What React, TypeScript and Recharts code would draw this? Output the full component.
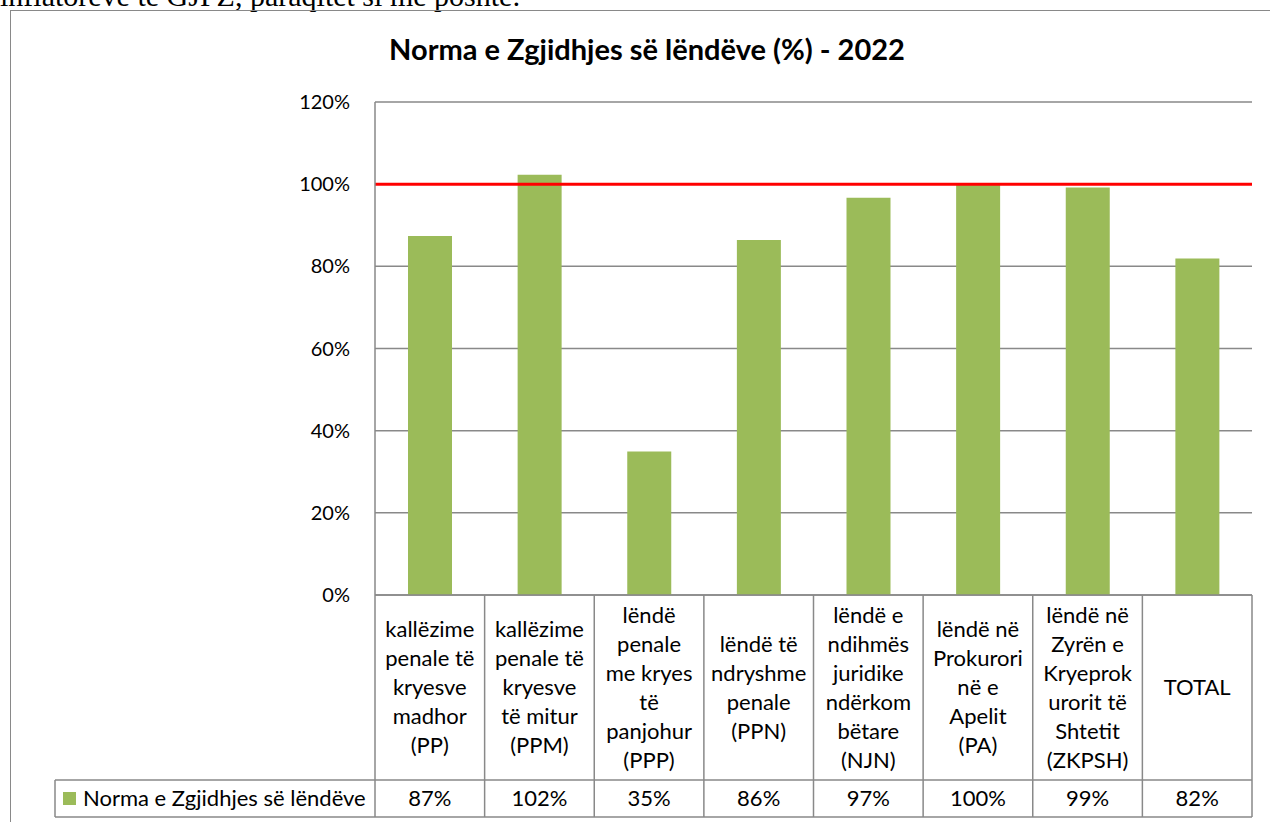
import React from 'react';
import { BarChart, Bar, XAxis, YAxis, CartesianGrid, ReferenceLine } from 'recharts';

const categories = ['PP', 'PPM', 'PPP', 'PPN', 'NJN', 'PA', 'ZKPSH', 'TOTAL'];

const categoryLines = [
    ['kallëzime', 'penale të', 'kryesve', 'madhor', '(PP)'],
    ['kallëzime', 'penale të', 'kryesve', 'të mitur', '(PPM)'],
    ['lëndë', 'penale', 'me kryes', 'të', 'panjohur', '(PPP)'],
    ['lëndë të', 'ndryshme', 'penale', '(PPN)'],
    ['lëndë e', 'ndihmës', 'juridike', 'ndërkom', 'bëtare', '(NJN)'],
    ['lëndë në', 'Prokurori', 'në e', 'Apelit', '(PA)'],
    ['lëndë në', 'Zyrën e', 'Kryeprok', 'urorit të', 'Shtetit', '(ZKPSH)'],
    ['TOTAL'],
];

// norma e zgjidhjes, ne %
const rates = [87.4, 102.3, 34.9, 86.4, 96.7, 100, 99.2, 81.9];

const yTicks = [0, 20, 40, 60, 80, 100, 120];

const seriesName = 'Norma e Zgjidhjes së lëndëve';
const title = 'Norma e Zgjidhjes së lëndëve (%) - 2022';
const target = 100;

const data = categories.map((c, i) => ({ key: c, value: rates[i] }));

const W = 1270;
const H = 822;
const PLOT_LEFT = 375;
const PLOT_RIGHT = 1252;
const PLOT_TOP = 102;
const PLOT_BOTTOM = 595;
const LABEL_ROW = 185;
const TABLE_H = 222;
const LEGEND_LEFT = 55;
const GRID = '#898989';
const GREEN = '#9bbb59';
const FONT = 'Lato, "Open Sans", sans-serif';

const cellW = (PLOT_RIGHT - PLOT_LEFT) / categories.length;

const TableTick = (props: any) => {
    const { x, y, index } = props;
    const lines = categoryLines[index] || [];
    const mid = y + LABEL_ROW / 2 + 7.5;
    return (
        <g>
            {index === 0 && (
                <g>
                    <line x1={x - cellW / 2} x2={x - cellW / 2} y1={y} y2={y + TABLE_H} stroke={GRID} strokeWidth={1.5} />
                    <line x1={LEGEND_LEFT} x2={PLOT_RIGHT} y1={y + LABEL_ROW} y2={y + LABEL_ROW} stroke={GRID} strokeWidth={1.5} />
                    <line x1={LEGEND_LEFT} x2={PLOT_RIGHT} y1={y + TABLE_H} y2={y + TABLE_H} stroke={GRID} strokeWidth={1.5} />
                    <line x1={LEGEND_LEFT} x2={LEGEND_LEFT} y1={y + LABEL_ROW} y2={y + TABLE_H} stroke={GRID} strokeWidth={1.5} />
                    <rect x={LEGEND_LEFT + 8} y={y + LABEL_ROW + 12} width={13} height={13} fill={GREEN} />
                    <text x={LEGEND_LEFT + 28} y={y + LABEL_ROW + 26} fontSize={22} fill="#000" fontFamily={FONT}>
                        {seriesName}
                    </text>
                </g>
            )}
            <line x1={x + cellW / 2} x2={x + cellW / 2} y1={y} y2={y + TABLE_H} stroke={GRID} strokeWidth={1.5} />
            {lines.map((l, i) => (
                <text
                    key={i}
                    x={x}
                    y={mid + (i - (lines.length - 1) / 2) * 29}
                    textAnchor="middle"
                    fontSize={22}
                    fill="#000"
                    fontFamily={FONT}
                >
                    {l}
                </text>
            ))}
            <text x={x} y={y + LABEL_ROW + 26} textAnchor="middle" fontSize={22} fill="#000" fontFamily={FONT}>
                {`${Math.round(rates[index])}%`}
            </text>
        </g>
    );
};

export default function App() {
    return (
        <div
            style={{
                position: 'fixed',
                left: 0,
                top: 0,
                width: W,
                height: H,
                overflow: 'hidden',
                background: '#fff',
            }}
        >
            <div
                style={{
                    position: 'absolute',
                    left: 0,
                    top: -19,
                    fontFamily: '"Liberation Serif", serif',
                    fontSize: 30,
                    lineHeight: '30px',
                    whiteSpace: 'nowrap',
                    color: '#000',
                }}
            >
                inflatorëve të GJPZ, paraqitet si më poshtë:
            </div>
            <div
                style={{
                    position: 'absolute',
                    left: 10,
                    top: 10,
                    width: 1400,
                    height: 1000,
                    border: `1.5px solid ${GRID}`,
                }}
            />
            <div
                style={{
                    position: 'absolute',
                    left: 0,
                    top: 31,
                    width: 1294,
                    textAlign: 'center',
                    fontFamily: FONT,
                    fontWeight: 700,
                    fontSize: 29,
                    lineHeight: '36px',
                    color: '#000',
                }}
            >
                {title}
            </div>
            <div style={{ position: 'absolute', left: 0, top: 0 }}>
                <BarChart
                    width={W}
                    height={H}
                    data={data}
                    margin={{ top: PLOT_TOP, right: W - PLOT_RIGHT, left: PLOT_LEFT - 60, bottom: H - PLOT_BOTTOM - TABLE_H }}
                >
                    <CartesianGrid vertical={false} stroke={GRID} strokeWidth={1.5} />
                    <XAxis
                        dataKey="key"
                        height={TABLE_H}
                        tickLine={false}
                        tickSize={0}
                        tickMargin={0}
                        axisLine={{ stroke: GRID, strokeWidth: 1.5 }}
                        tick={<TableTick />}
                        interval={0}
                    />
                    <YAxis
                        width={60}
                        domain={[0, 120]}
                        ticks={yTicks}
                        tickFormatter={(v: number) => `${v}%`}
                        tickLine={false}
                        tickSize={0}
                        tickMargin={25}
                        axisLine={{ stroke: GRID, strokeWidth: 1.5 }}
                        tick={{ fontSize: 20, fill: '#000', fontFamily: FONT }}
                    />
                    <Bar dataKey="value" name={seriesName} fill={GREEN} barSize={44} isAnimationActive={false} />
                    <ReferenceLine y={target} stroke="#ff0000" strokeWidth={3} />
                </BarChart>
            </div>
        </div>
    );
}
